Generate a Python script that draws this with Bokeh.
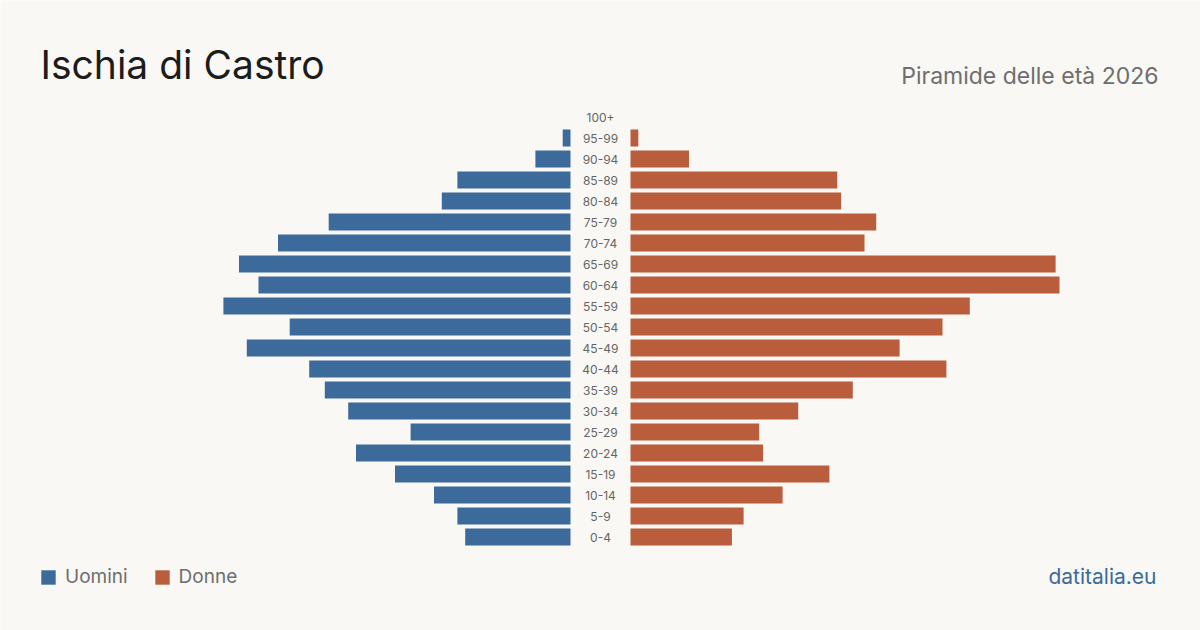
from bokeh.plotting import figure
from bokeh.models import Range1d, Label, Legend, LegendItem, ColumnDataSource
from bokeh.core.properties import value
from bokeh.embed import file_html
from bokeh.resources import INLINE

# ---- data ----
age_groups = ["0-4", "5-9", "10-14", "15-19", "20-24", "25-29", "30-34", "35-39",
              "40-44", "45-49", "50-54", "55-59", "60-64", "65-69", "70-74", "75-79",
              "80-84", "85-89", "90-94", "95-99", "100+"]
men = [27, 29, 35, 45, 55, 41, 57, 63, 67, 83, 72, 89, 80, 85, 75, 62, 33, 29, 9, 2, 0]
women = [26, 29, 39, 51, 34, 33, 43, 57, 81, 69, 80, 87, 110, 109, 60, 63, 54, 53, 15, 2, 0]

title_text = "Ischia di Castro"
subtitle_text = "Piramide delle età 2026"
source_text = "datitalia.eu"
series_names = ["Uomini", "Donne"]

# ---- style ----
BG = "#f9f8f4"
BLUE = "#3c6b9b"
ORANGE = "#b95d3d"
FONT = "Inter"
PX_PER_UNIT = 3.9          # pixels per person
HALF_GAP = 30 / PX_PER_UNIT  # space for the age labels
ROW_PX = 21

W, H = 1200, 630
rows = list(range(len(age_groups)))

src = ColumnDataSource(dict(
    y=rows,
    age=age_groups,
    m_left=[-(HALF_GAP + v) for v in men],
    m_right=[-HALF_GAP] * len(men),
    w_left=[HALF_GAP] * len(women),
    w_right=[HALF_GAP + v for v in women],
    zero=[0] * len(rows),
))

y0_px = 536.5  # pixel centre of first row
p = figure(width=W, height=H,
           x_range=Range1d(-(W / 2) / PX_PER_UNIT, (W / 2) / PX_PER_UNIT),
           y_range=Range1d(-(H - y0_px) / ROW_PX, y0_px / ROW_PX),
           output_backend="svg", toolbar_location=None,
           x_axis_location=None, y_axis_location=None,
           min_border=0, background_fill_color=BG, border_fill_color=BG,
           outline_line_color=None)
p.grid.visible = False

rm = p.hbar(y="y", left="m_left", right="m_right", height=17 / ROW_PX,
            fill_color=BLUE, line_color=None, source=src)
rw = p.hbar(y="y", left="w_left", right="w_right", height=17 / ROW_PX,
            fill_color=ORANGE, line_color=None, source=src)

p.text(x="zero", y="y", text="age", source=src, text_align="center",
       text_baseline="middle", text_font=value(FONT), text_font_size="12px",
       text_color="#666666")

p.add_layout(Label(x=40, y=H - 64, x_units="screen", y_units="screen",
                   text=title_text, text_font=FONT, text_font_size="39px",
                   text_color="#1c1c1c", text_baseline="alphabetic"))
p.add_layout(Label(x=1158, y=H - 75, x_units="screen", y_units="screen",
                   text=subtitle_text, text_font=FONT, text_font_size="23px",
                   text_color="#6e6e6e", text_align="right",
                   text_baseline="alphabetic"))
p.add_layout(Label(x=1156, y=H - 576, x_units="screen", y_units="screen",
                   text=source_text, text_font=FONT, text_font_size="21px",
                   text_color=BLUE, text_align="right",
                   text_baseline="alphabetic"))

legend = Legend(items=[LegendItem(label=series_names[0], renderers=[rm]),
                       LegendItem(label=series_names[1], renderers=[rw])],
                location=(39, H - 588), orientation="horizontal",
                glyph_width=18, glyph_height=18, label_height=18,
                label_standoff=8, spacing=25, padding=0, margin=0,
                border_line_color=None, background_fill_alpha=0,
                label_text_font=FONT, label_text_font_size="19px",
                label_text_color="#6e6e6e")
p.add_layout(legend)

open("out.html", "w").write(file_html(p, INLINE))
